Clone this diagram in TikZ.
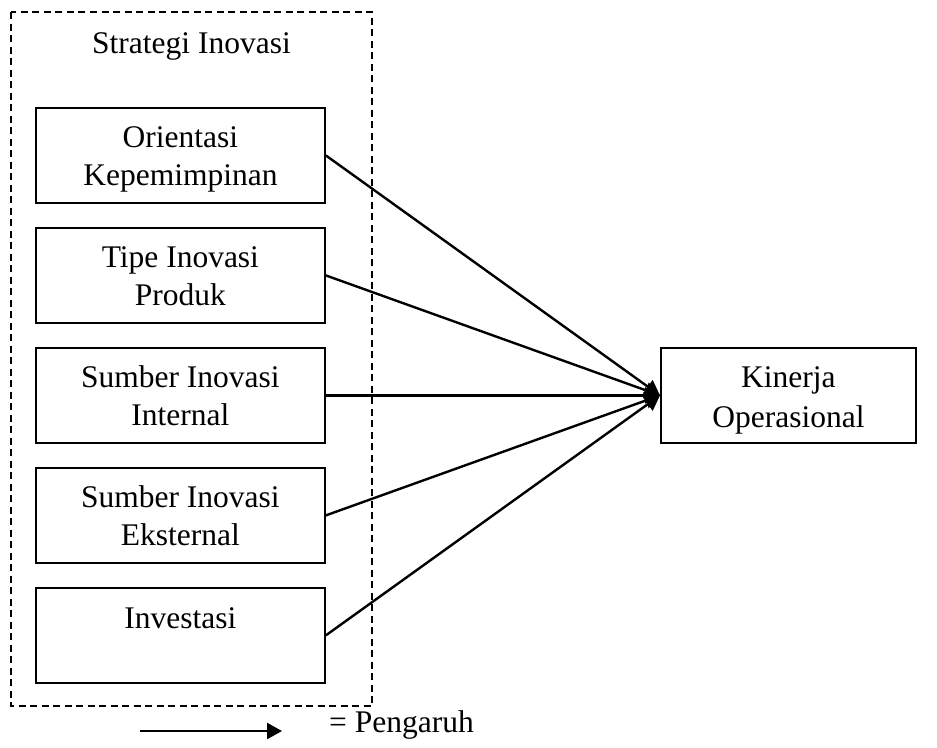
\documentclass[tikz,border=0pt]{standalone}
\usepackage{fontspec}
\setmainfont{Liberation Serif}
\usetikzlibrary{arrows.meta}
\begin{document}
\begin{tikzpicture}[x=1pt,y=-1pt,
  box/.style={draw, line width=1.8pt, minimum width=289pt, minimum height=95pt, inner sep=0pt, anchor=north west},
  txt/.style={font=\fontsize{31.5pt}{38pt}\selectfont, align=center, inner sep=0pt, anchor=base},
  conn/.style={line width=2.4pt, -{Triangle[length=15pt,width=16pt]}},
  frame/.style={draw, line width=1.6pt, dash pattern=on 7pt off 4.5pt}]
\useasboundingbox (0,0) rectangle (937,747);
\draw[frame] (11,12) rectangle (372,706);
\node[txt] (title) at (191.5,53) {Strategi Inovasi};
\node[box] (b1) at (35,107) {};
\node[box] (b2) at (35,227) {};
\node[box] (b3) at (35,347) {};
\node[box] (b4) at (35,467) {};
\node[box] (b5) at (35,587) {};
\node[box, minimum width=255pt] (k) at (660,347) {};
\node[txt] (t1) at ([yshift=-78pt]b1.north) {Orientasi\\Kepemimpinan};
\node[txt] (t2) at ([yshift=-78pt]b2.north) {Tipe Inovasi\\Produk};
\node[txt] (t3) at ([yshift=-78pt]b3.north) {Sumber Inovasi\\Internal};
\node[txt] (t4) at ([yshift=-78pt]b4.north) {Sumber Inovasi\\Eksternal};
\node[txt] (t5) at ([yshift=-41pt]b5.north) {Investasi};
\node[txt, font=\fontsize{31.5pt}{40pt}\selectfont] (tk) at ([yshift=-80pt]k.north) {Kinerja\\Operasional};
\foreach \i in {1,...,5} \draw[conn] (b\i.east) -- (k.west);
\coordinate (ls) at (140,731);
\coordinate (le) at (282,731);
\draw[conn] (ls) -- (le);
\node[txt, anchor=base west] (leg) at (329,732) {= Pengaruh};
\end{tikzpicture}
\end{document}
